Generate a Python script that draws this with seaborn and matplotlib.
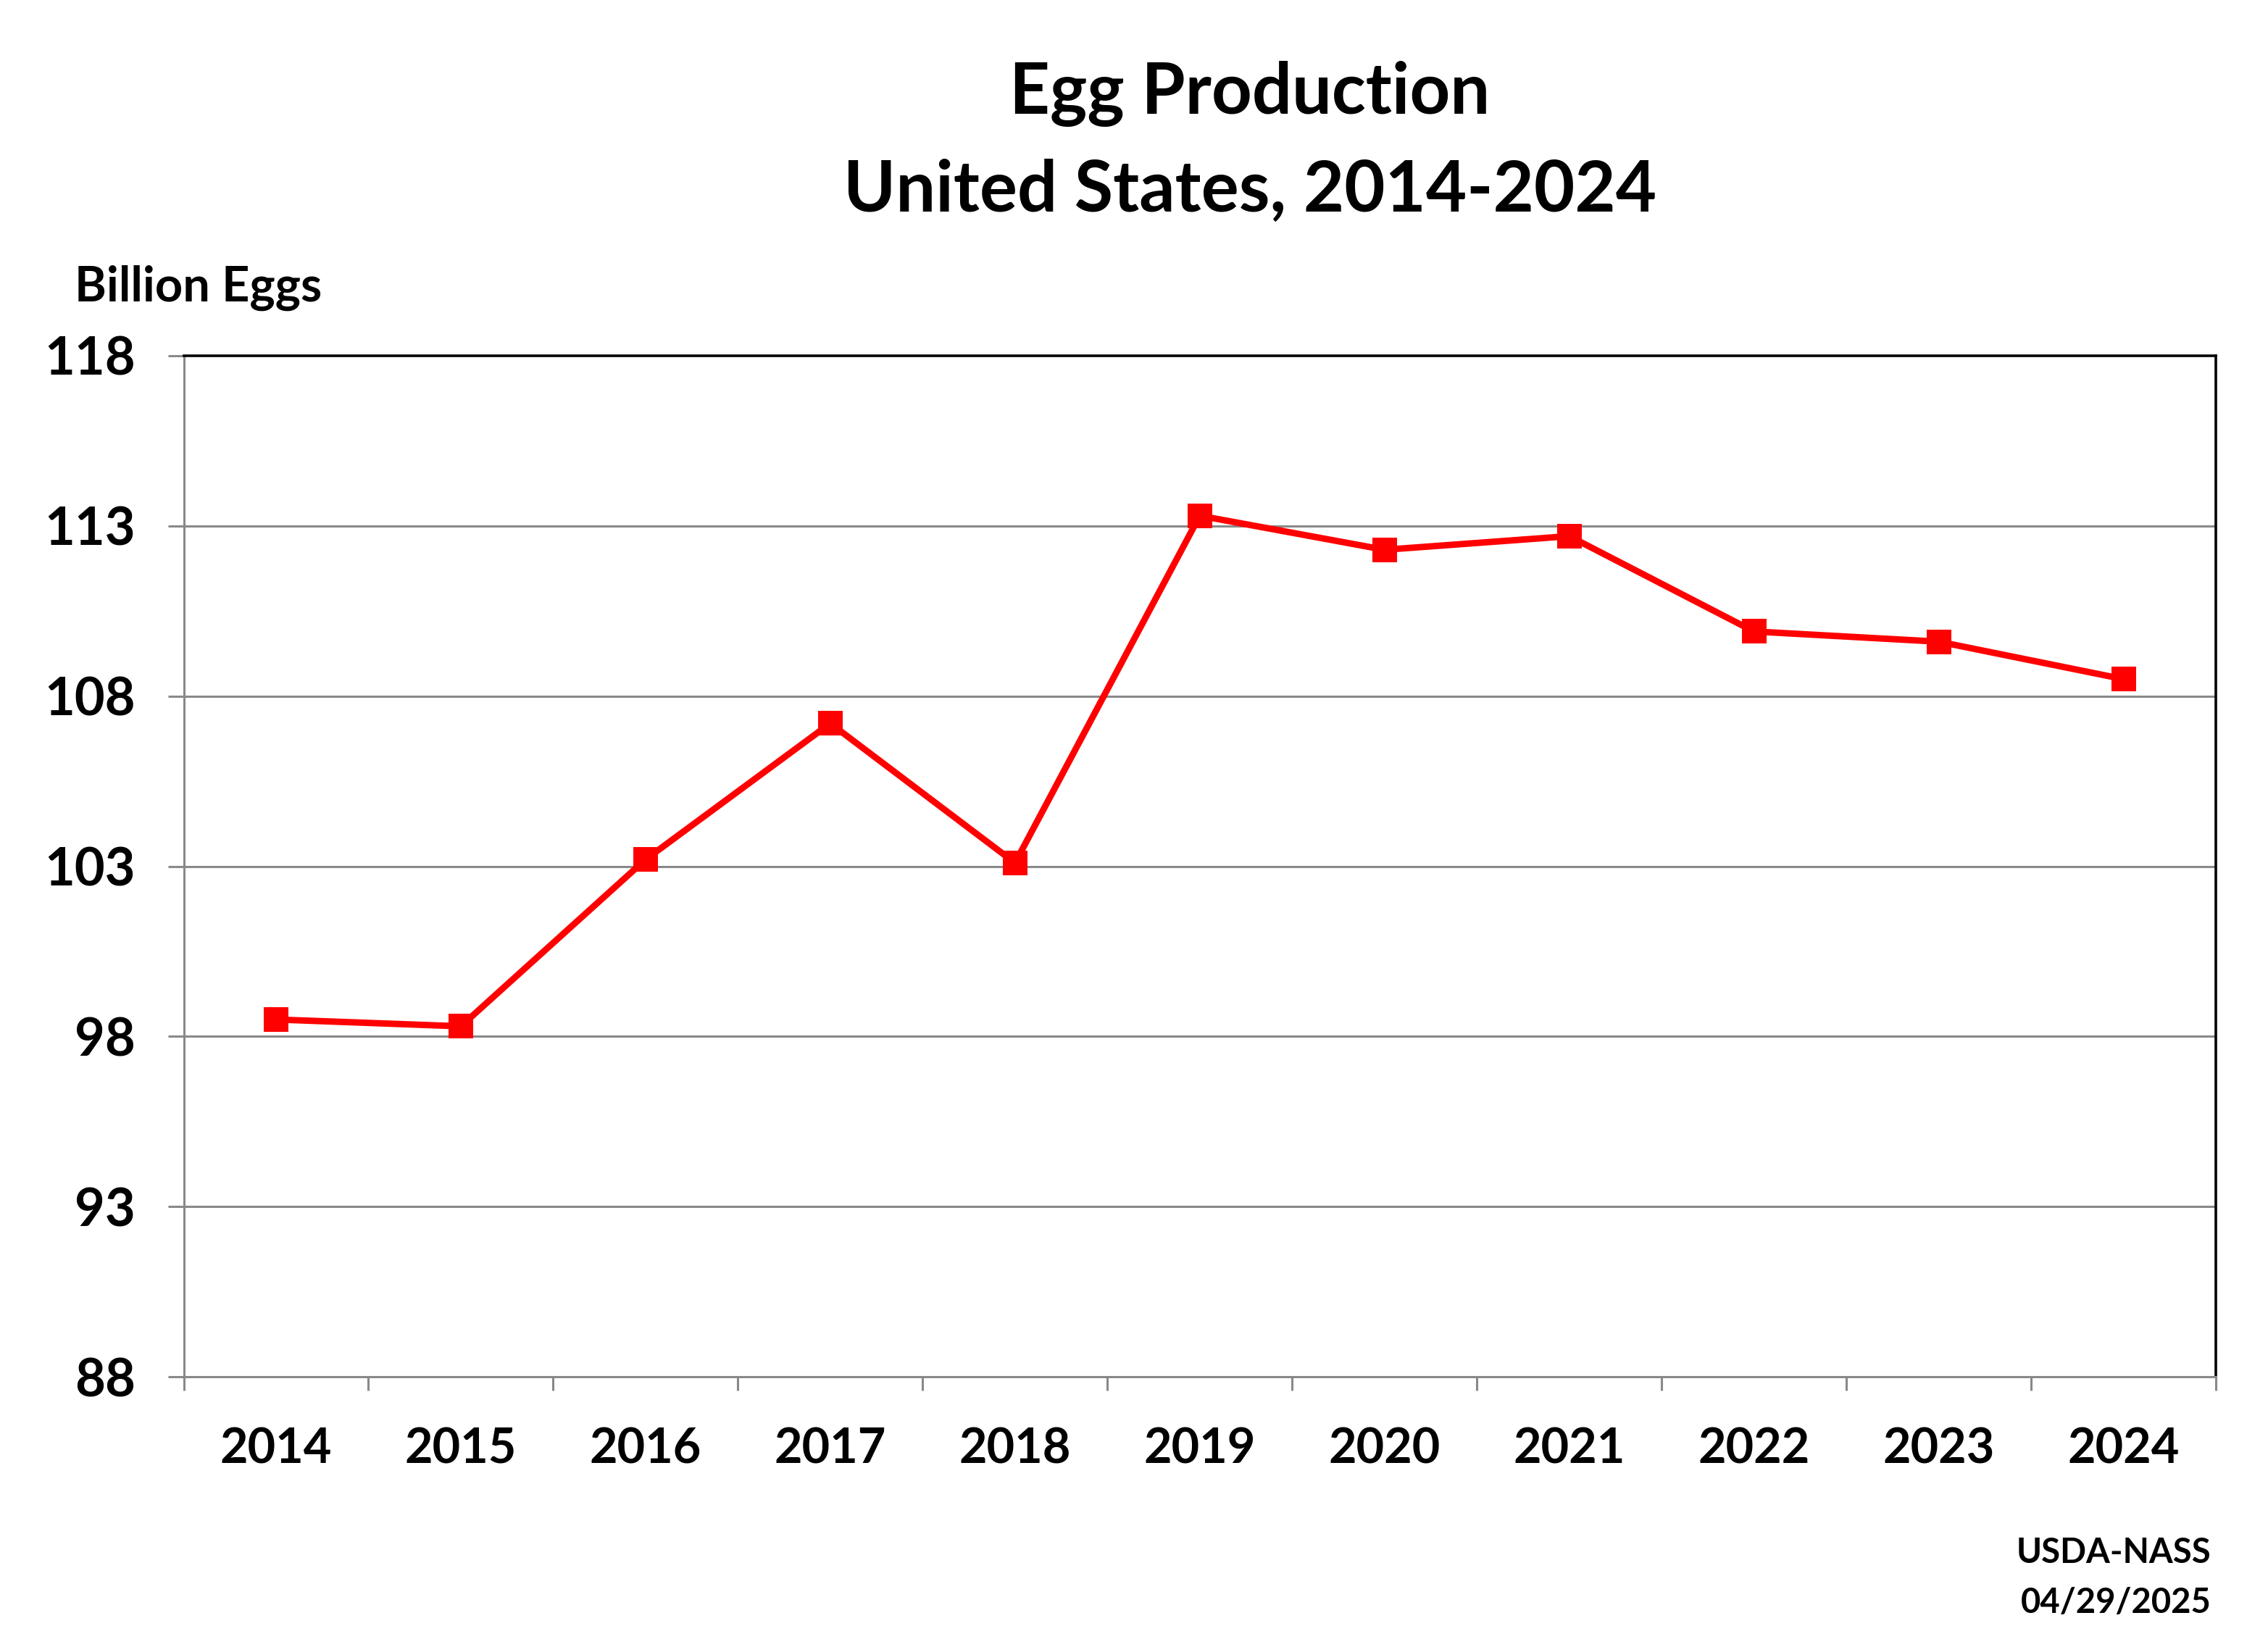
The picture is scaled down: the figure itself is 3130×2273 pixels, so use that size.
import numpy as np
import pandas as pd
import seaborn as sns
import matplotlib.pyplot as plt
from matplotlib.ticker import FixedLocator

years = [2014, 2015, 2016, 2017, 2018, 2019, 2020, 2021, 2022, 2023, 2024]
eggs = [98.5, 98.3, 103.2, 107.2, 103.1, 113.3, 112.3, 112.7, 109.9, 109.6, 108.5]
y_ticks = [88, 93, 98, 103, 108, 113, 118]

df = pd.DataFrame({"Year": years, "Eggs": eggs})

sns.set_style("white")
plt.rcParams['font.family'] = ['Lato', 'DejaVu Sans']
plt.rcParams['font.weight'] = 'bold'
plt.rcParams['text.color'] = 'black'
plt.rcParams['xtick.color'] = 'black'
plt.rcParams['ytick.color'] = 'black'

grey = "#898989"

fig = plt.figure(figsize=(15.65, 11.365), dpi=200)
ax = fig.add_axes([0.081, 0.164, 0.896, 0.62])

ax.set_axisbelow(True)
for t in y_ticks[1:-1]:
    ax.axhline(t, color=grey, lw=1.1, zorder=0)

sns.lineplot(data=df, x="Year", y="Eggs", ax=ax, color="#ff0000", lw=3.2,
             marker="s", markersize=12.5, markeredgecolor="#ff0000",
             markeredgewidth=0, zorder=3)

ax.set_xlim(years[0] - 0.5, years[-1] + 0.5)
ax.set_ylim(y_ticks[0], y_ticks[-1])
ax.set_yticks(y_ticks)
ax.set_xticks(years)
ax.xaxis.set_minor_locator(FixedLocator([y - 0.5 for y in years] + [years[-1] + 0.5]))
ax.set_xlabel("")
ax.set_ylabel("")

ax.tick_params(axis="x", which="major", bottom=True, length=0, pad=25, labelsize=24,
               labelcolor="black")
ax.tick_params(axis="x", which="minor", bottom=True, length=7, width=1.1, color=grey,
               direction="out")
ax.tick_params(axis="y", which="major", left=True, length=8, width=1.1, color=grey,
               direction="out", pad=16, labelsize=26, labelcolor="black")
for lab in ax.get_xticklabels() + ax.get_yticklabels():
    lab.set_fontweight("bold")

for side in ["left", "bottom"]:
    ax.spines[side].set_color(grey)
    ax.spines[side].set_linewidth(1.1)
for side in ["top", "right"]:
    ax.spines[side].set_color("black")
    ax.spines[side].set_linewidth(1.3)
    ax.spines[side].set_visible(True)

fig.text(0.551, 0.943, "Egg Production", ha="center", va="center", fontsize=35, fontweight="bold")
fig.text(0.551, 0.884, "United States, 2014-2024", ha="center", va="center", fontsize=35, fontweight="bold")
fig.text(0.033, 0.825, "Billion Eggs", ha="left", va="center", fontsize=24, fontweight="bold")
fig.text(0.975, 0.057, "USDA-NASS", ha="right", va="center", fontsize=17, fontweight="bold")
fig.text(0.975, 0.027, "04/29/2025", ha="right", va="center", fontsize=17, fontweight="bold")

fig.savefig("out.png", dpi=200, facecolor="white")
